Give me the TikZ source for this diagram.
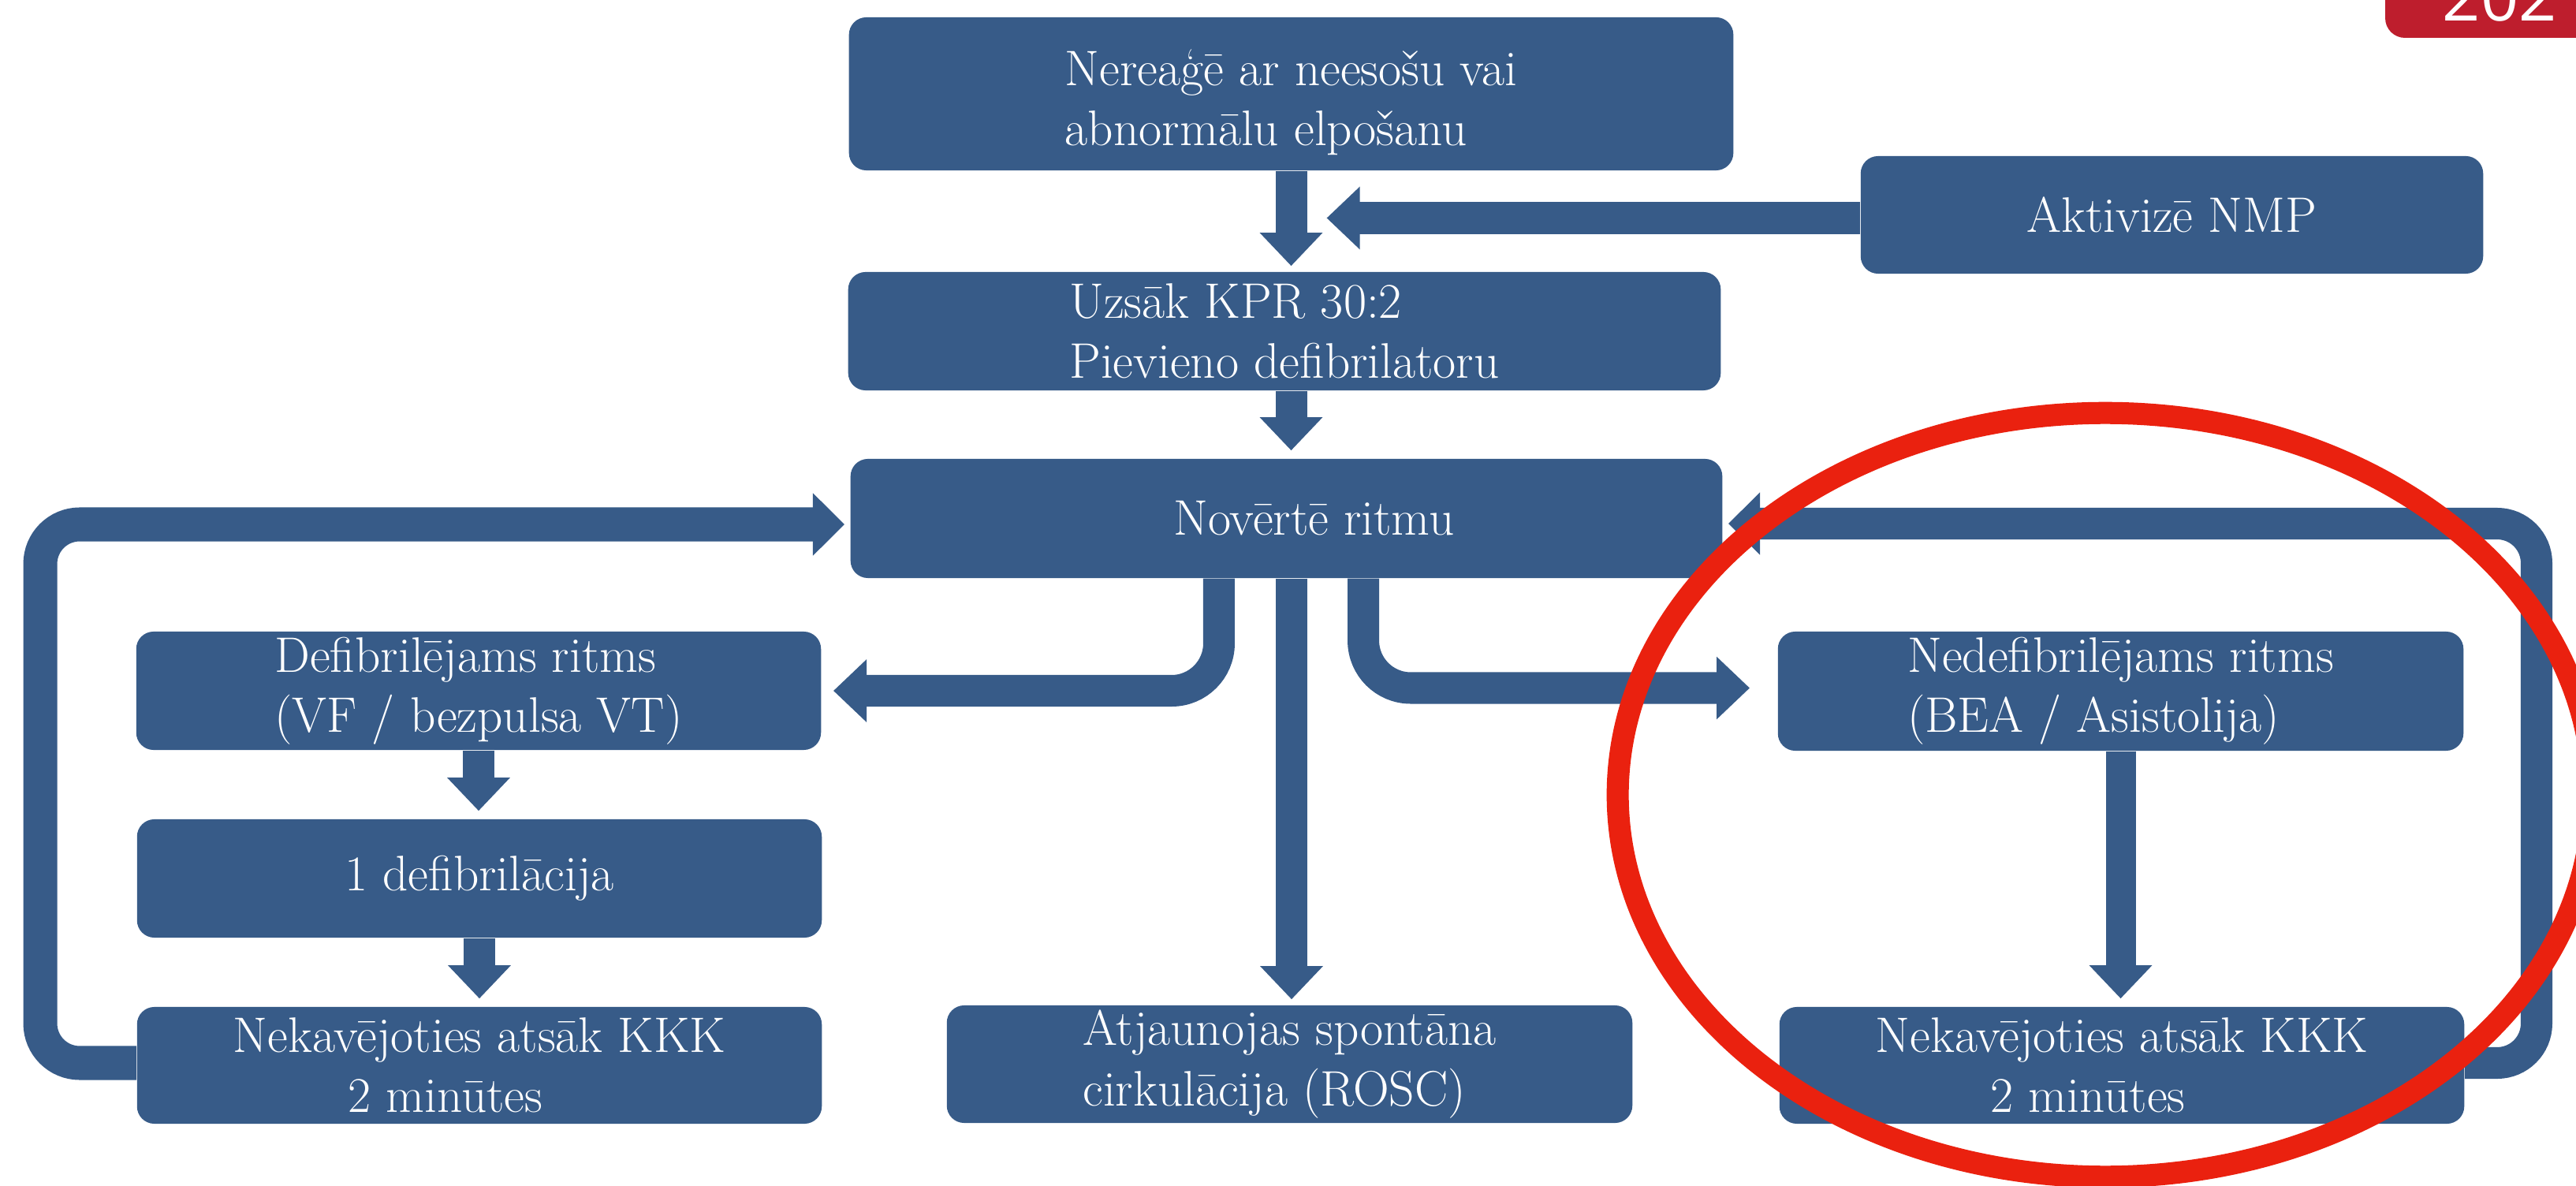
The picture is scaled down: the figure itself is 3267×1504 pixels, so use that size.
\documentclass[tikz,border=0pt]{standalone}
\usepackage{fontspec}
\usetikzlibrary{arrows.meta,calc}
\newfontfamily\badgefont{Open Sans}
\definecolor{boxblue}{RGB}{55,91,136}
\definecolor{ringred}{RGB}{234,33,15}
\definecolor{badgered}{RGB}{190,30,45}
\tikzset{
  box/.style={fill=boxblue, rounded corners=0.22cm, text=white,
    font=\fontsize{18pt}{21.7pt}\selectfont, inner sep=0pt, align=left},
  blockarrow/.style={draw=boxblue, line width=0.40cm,
    -{Triangle[length=0.42cm, width=0.77cm]}, shorten >=0.07cm},
  looparrow/.style={draw=boxblue, line width=0.43cm, rounded corners=0.5cm,
    -{Triangle[length=0.40cm, width=0.77cm]}, shorten >=0.07cm},
}
\begin{document}
\begin{tikzpicture}[x=0.01cm, y=-0.01cm]
\path[use as bounding box] (0,0) rectangle (3267,1504);
\clip (0,0) rectangle (3267,1504);
\fill[white] (0,0) rectangle (3267,1504);

% boxes
\node[box, minimum width=11.21cm, minimum height=1.94cm] (b1) at (1637.5,119)
  {\rule{0pt}{0.68cm}Nereaģē ar neesošu vai\\abnormālu elpošanu};
\node[box, minimum width=7.89cm, minimum height=1.49cm] (nmp) at (2754.5,272.5)
  {Aktivizē NMP};
\node[box, minimum width=11.06cm, minimum height=1.50cm] (b2) at (1629,420)
  {Uzsāk KPR 30:2\\Pievieno defibrilatoru};
\node[box, minimum width=11.05cm, minimum height=1.51cm] (b3) at (1631.5,657.5)
  {\hspace*{0.7cm}Novērtē ritmu};
\node[box, minimum width=8.68cm, minimum height=1.50cm] (defib) at (607,876)
  {Defibrilējams ritms\\(VF / bezpulsa VT)};
\node[box, minimum width=8.69cm, minimum height=1.51cm] (nondef) at (2689.5,876.5)
  {Nedefibrilējams ritms\\(BEA / Asistolija)};
\node[box, minimum width=8.68cm, minimum height=1.50cm] (shock) at (608,1114)
  {1 defibrilācija};
\node[box, align=center, minimum width=8.68cm, minimum height=1.48cm] (cprL) at (608,1351)
  {Nekavējoties atsāk KKK\\2 minūtes\makebox[0.86cm]{}};
\node[box, minimum width=8.69cm, minimum height=1.49cm] (rosc) at (1635.5,1349.5)
  {Atjaunojas spontāna\\cirkulācija (ROSC)};
\node[box, align=center, minimum width=8.68cm, minimum height=1.48cm] (cprR) at (2691,1351)
  {Nekavējoties atsāk KKK\\2 minūtes\makebox[0.86cm]{}};

% straight connectors
\draw[blockarrow] (b1.south) -- (b1.south |- b2.north);
\draw[blockarrow, shorten >=0pt] ([yshift=-0.04cm]nmp.west) -- ([xshift=0.45cm,yshift=-0.04cm]b1.south |- nmp.west);
\draw[blockarrow, shorten >=0.1cm] (b1.south |- b2.south) -- (b1.south |- b3.north);
\draw[blockarrow] ([xshift=0.065cm]b3.south) -- ([xshift=0.065cm]b3.south |- rosc.north);
\draw[blockarrow, shorten >=0.1cm] (defib.south) -- (defib.south |- shock.north);
\draw[blockarrow, shorten >=0.1cm] (shock.south) -- (shock.south |- cprL.north);
\draw[blockarrow, line width=0.38cm, shorten >=0.1cm] (nondef.south) -- (nondef.south |- cprR.north);

% branches from the rhythm check
\draw[blockarrow, rounded corners=0.6cm, shorten >=0.15cm]
  ([xshift=-0.855cm]b3.south) |- (defib.east);
\draw[blockarrow, rounded corners=0.6cm, shorten >=0.35cm]
  ([xshift=0.975cm]b3.south) |- ([yshift=0.04cm]nondef.west);

% loops back to the rhythm check
\draw[looparrow] ([yshift=0.03cm]cprL.west) -- ++(-122,0) |- ([yshift=-0.075cm]b3.west);
\draw[looparrow, line width=0.40cm] ([yshift=0.03cm]cprR.east) -- ++(91,0) |- ([yshift=-0.065cm]b3.east);

% red ring
\draw[ringred, line width=0.28cm] (2670,1008) ellipse [x radius=6.18cm, y radius=4.84cm];

% corner badge
\fill[badgered, rounded corners=0.25cm] (3025,-80) rectangle (3330,48);
\node[anchor=base west, inner sep=0pt, text=white,
  font=\badgefont\fontsize{24pt}{24pt}\selectfont] (badge) at (3097,27) {202};
\end{tikzpicture}
\end{document}
